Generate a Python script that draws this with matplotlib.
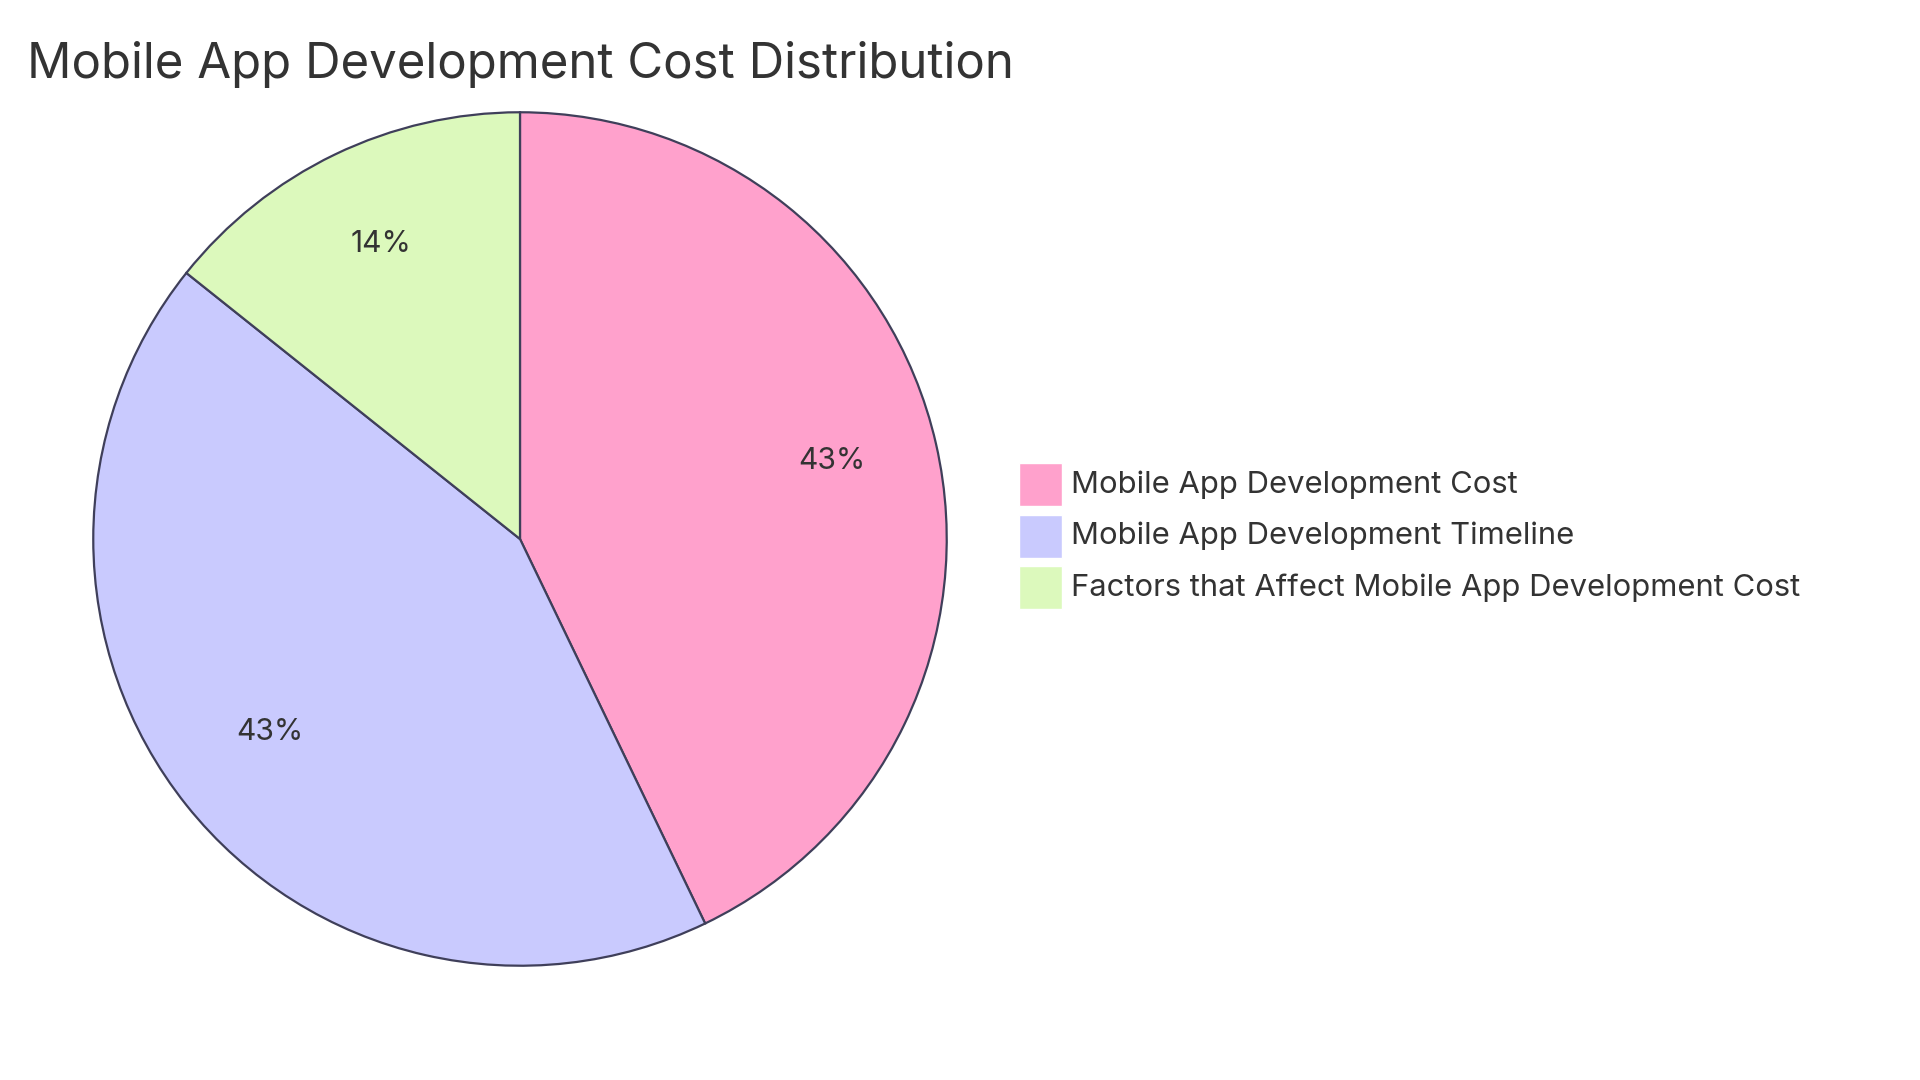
import matplotlib.pyplot as plt
from matplotlib.patches import Rectangle

# datos del grafico
categorias = ["Mobile App Development Cost",
              "Mobile App Development Timeline",
              "Factors that Affect Mobile App Development Cost"]
valores = [3, 3, 1]
colores = ["#FFA1CC", "#C9CAFE", "#DCF9BC"]
titulo = "Mobile App Development Cost Distribution"

plt.rcParams['font.family'] = ['Inter', 'DejaVu Sans']

W, H = 1920, 1080
fig = plt.figure(figsize=(W / 100, H / 100), dpi=100)

# pastel: centro (520, 539) px, radio ~431 px
cx, cy, r = 520, 539, 431
ax = fig.add_axes([(cx - r) / W, (H - cy - r) / H, 2 * r / W, 2 * r / H])
wedges, textos, pcts = ax.pie(valores, colors=colores, startangle=90, counterclock=False,
                              autopct='%.0f%%', pctdistance=0.75, radius=1,
                              wedgeprops=dict(edgecolor='#3F3F5A', linewidth=1.6),
                              textprops=dict(fontsize=21.5, color='#333333'))
for t in pcts:
    x, y = t.get_position()
    t.set_position((x, y + 0.016))
ax.set_xlim(-1.01, 1.01)
ax.set_ylim(-1.01, 1.01)
ax.set_aspect('equal')
ax.axis('off')

fig.text(27 / W, 1 - 64 / H, titulo, fontsize=35.4, color='#333333',
         ha='left', va='center')

# leyenda manual
x0, y0, lado, paso = 1019, 463, 43, 51.5
for i, (cat, col) in enumerate(zip(categorias, colores)):
    top = y0 + i * paso
    fig.patches.append(Rectangle((x0 / W, 1 - (top + lado) / H), lado / W, lado / H,
                                 transform=fig.transFigure, facecolor=col,
                                 edgecolor='white', linewidth=1))
    fig.text(1071 / W, 1 - (top + lado / 2) / H, cat, fontsize=22.3,
             color='#333333', ha='left', va='center')

fig.savefig('out.png', dpi=100, facecolor='white')
